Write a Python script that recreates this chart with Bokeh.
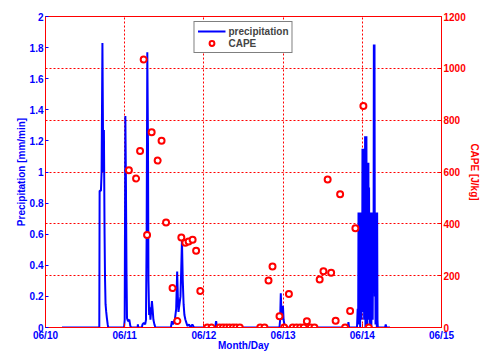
from bokeh.plotting import figure
from bokeh.models import Range1d, LinearAxis, FixedTicker, Legend, LegendItem
from bokeh.embed import file_html
from bokeh.resources import INLINE

# ---------------- data ----------------
# precipitation, hours after 06/10 00:00 -> mm/min
precip_hours = [
    5.0, 16.3, 16.4, 16.8, 17.0, 17.25, 17.5, 17.7, 17.9, 18.05, 18.2, 18.4, 18.6, 18.85, 19.0,
    23.8, 24.0, 24.2, 24.35, 24.55, 24.7, 25.0, 25.4, 25.7, 26.0, 27.9, 28.0, 28.1,
    29.2, 29.4, 29.8, 30.2, 30.45, 30.65, 30.85, 31.05, 31.2, 31.4, 31.6, 31.8, 32.0,
    32.25, 32.45, 32.7, 33.0, 33.3,
    38.0, 38.3, 38.6, 39.2, 39.6, 39.9, 40.1, 40.3, 40.6, 40.9, 41.1, 41.35, 41.6,
    41.85, 42.1, 42.4, 42.7, 43.0, 43.5, 44.0, 44.5, 45.0,
    51.4, 51.7, 52.0,
    70.9, 71.1, 71.3, 71.5, 71.75, 71.95, 72.15, 72.4, 72.7,
    91.6, 91.8, 92.0,
    94.4, 94.6, 94.75, 94.85, 94.95, 95.05, 95.15, 95.25, 95.35, 95.45, 95.55, 95.65,
    95.75, 95.85, 95.95, 96.05, 96.15, 96.25, 96.35, 96.45, 96.55, 96.65, 96.75, 96.85,
    96.95, 97.05, 97.15, 97.25, 97.35, 97.45, 97.55, 97.65, 97.75, 97.85, 97.95, 98.05,
    98.15, 98.25, 98.35, 98.45, 98.55, 98.65, 98.75, 98.85, 98.95, 99.05, 99.15, 99.3,
    99.4, 99.5, 99.6, 99.7, 99.8, 99.9, 100.0, 100.1, 100.2, 100.3, 100.4, 100.5, 100.6, 100.7,
    102.9, 103.1, 103.3, 104.4,
]
precip_values = [
    0, 0, 0.88, 0.88, 1.0, 1.83, 1.0, 1.27, 0.6, 0.3, 0.15, 0.1, 0.06, 0.02, 0,
    0, 0.05, 1.36, 1.0, 0.35, 0.06, 0.04, 0.05, 0.01, 0, 0, 0.02, 0,
    0, 0.02, 0.03, 0.02, 0.05, 0.6, 1.77, 1.2, 0.3, 0.08, 0.13, 0.05, 0.1,
    0.17, 0.12, 0.05, 0.02, 0,
    0, 0.04, 0.02, 0.05, 0.12, 0.36, 0.2, 0.1, 0.15, 0.2, 0.35, 0.56, 0.3,
    0.15, 0.08, 0.05, 0.03, 0.01, 0.02, 0, 0.02, 0,
    0, 0.04, 0,
    0, 0.05, 0.22, 0.1, 0.05, 0.14, 0.05, 0.02, 0,
    0, 0.035, 0,
    0, 0.12, 0.02, 0.74, 0.05, 0.74, 0.1, 0.73, 0.0, 0.74, 0.2, 0.7,
    0.05, 0.74, 0.15, 1.15, 0.3, 1.14, 0.1, 1.15, 0.05, 1.1, 0.2, 1.23,
    0.0, 1.22, 0.1, 1.23, 0.25, 1.06, 0.0, 1.05, 0.15, 1.06, 0.05, 0.9,
    0.2, 0.59, 0.0, 0.6, 0.1, 0.74, 0.0, 0.74, 0.12, 0.73, 0.05, 0.74,
    0.3, 1.82, 0.4, 1.82, 0.2, 0.74, 0.02, 0.74, 0.1, 0.74, 0.0, 0.74, 0.05, 0.0,
    0, 0.02, 0, 0,
]

# CAPE, hours after 06/10 00:00 -> J/kg
cape_hours = [
    25.27, 27.45, 28.66, 29.75, 30.78, 32.17, 33.99, 35.17, 36.53, 38.50, 39.95,
    41.16, 42.37, 43.37, 44.58, 45.64, 46.91, 49.03, 50.33, 52.75, 53.78, 54.78,
    55.78, 56.81, 57.81, 58.87, 65.07, 66.37, 67.58, 68.79, 70.91, 72.33, 73.76,
    74.91, 76.06, 77.18, 78.24, 79.20, 80.35, 81.50, 83.08, 84.23, 85.50, 86.56,
    87.92, 89.28, 90.79, 92.31, 93.91, 96.33, 97.97,
]
cape_values = [
    607, 575, 681, 1034, 357, 753, 644, 721, 405, 152, 25,
    347, 327, 332, 339, 296, 141, 0, 0, 0, 0, 0,
    0, 0, 0, 0, 0, 0, 181, 235, 43, 0, 129,
    0, 0, 0, 0, 24, 0, 0, 185, 217, 571, 211,
    26, 514, 0, 64, 383, 855, 0,
]

day_ticks = [0, 24, 48, 72, 96, 120]
day_labels = ["06/10", "06/11", "06/12", "06/13", "06/14", "06/15"]
precip_ticks = [0, 0.2, 0.4, 0.6, 0.8, 1, 1.2, 1.4, 1.6, 1.8, 2]
precip_labels = ["0", "0.2", "0.4", "0.6", "0.8", "1", "1.2", "1.4", "1.6", "1.8", "2"]
cape_ticks = [0, 200, 400, 600, 800, 1000, 1200]

BLUE = "#0000FF"
RED = "#FF0000"
FONT = "Liberation Sans"

p = figure(width=482, height=353, output_backend="svg", toolbar_location=None,
           x_range=Range1d(0, 120), y_range=Range1d(0, 2),
           min_border_left=45, min_border_top=16, min_border_right=40, min_border_bottom=24)
p.extra_y_ranges = {"cape": Range1d(0, 1200)}
p.background_fill_color = "white"
p.border_fill_color = "white"
p.outline_line_color = RED
p.outline_line_width = 1

# grids
p.xgrid.ticker = FixedTicker(ticks=day_ticks)
p.ygrid[0].y_range_name = "cape"
p.ygrid.ticker = FixedTicker(ticks=cape_ticks)
for g in (p.xgrid, p.ygrid):
    g.grid_line_color = RED
    g.grid_line_alpha = 1.0
    g.grid_line_dash = "2 2"
    g.grid_line_width = 1

# bottom axis
xa = p.xaxis[0]
xa.ticker = FixedTicker(ticks=day_ticks)
xa.major_label_overrides = dict(zip(day_ticks, day_labels))
xa.axis_label = "Month/Day"

# left axis
ya = p.yaxis[0]
ya.ticker = FixedTicker(ticks=precip_ticks)
ya.major_label_overrides = dict(zip(precip_ticks, precip_labels))
ya.axis_label = "Precipitation [mm/min]"

# right axis
ra = LinearAxis(y_range_name="cape", ticker=FixedTicker(ticks=cape_ticks),
                axis_label="CAPE [J/kg]")
p.add_layout(ra, "right")

for ax, col in ((xa, BLUE), (ya, BLUE), (ra, RED)):
    ax.axis_line_color = RED
    ax.major_tick_line_color = RED
    ax.minor_tick_line_color = None
    ax.major_tick_in = 4
    ax.major_tick_out = 0
    ax.minor_tick_in = 0
    ax.minor_tick_out = 0
    ax.major_label_text_color = col
    ax.major_label_text_font = FONT
    ax.major_label_text_font_style = "bold"
    ax.major_label_text_font_size = "10px"
    ax.major_label_standoff = 2
    ax.axis_label_text_color = col
    ax.axis_label_text_font = FONT
    ax.axis_label_text_font_style = "bold"
    ax.axis_label_text_font_size = "10px"
    ax.axis_label_standoff = 0
xa.axis_label_standoff = -4
ya.major_tick_line_color = BLUE
ya.major_tick_in = 3

line = p.line(precip_hours, precip_values, color=BLUE, line_width=2)
pts = p.scatter(cape_hours, cape_values, y_range_name="cape", marker="circle",
                size=6, line_color=RED, line_width=2, fill_color="white")

legend = Legend(items=[LegendItem(label="precipitation", renderers=[line]),
                       LegendItem(label="CAPE", renderers=[pts])],
                location="top_center")
legend.border_line_color = "black"
legend.border_line_width = 1.5
legend.background_fill_color = "white"
legend.background_fill_alpha = 1
legend.label_text_font = FONT
legend.label_text_font_style = "bold"
legend.label_text_font_size = "10px"
legend.label_height = 12
legend.label_standoff = 3
legend.glyph_height = 12
legend.glyph_width = 28
legend.padding = 3
legend.spacing = 0
legend.margin = 5
p.add_layout(legend, "center")

open("out.html", "w").write(file_html(p, INLINE))
